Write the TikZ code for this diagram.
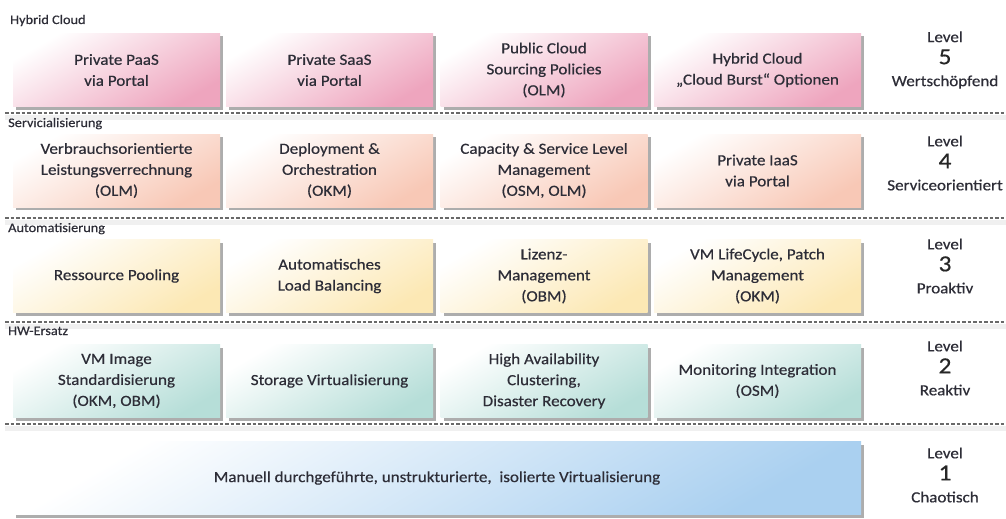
\documentclass[tikz,border=0pt]{standalone}
\usepackage{fontspec}
\setmainfont[FakeStretch=1.1]{Carlito}
\newfontfamily\boxfont[FakeStretch=1.1,FakeBold=0.5]{Carlito}
\usetikzlibrary{shadows}
\definecolor{txt}{RGB}{45,45,55}
\definecolor{pinkc}{RGB}{238,165,190}
\definecolor{peachc}{RGB}{248,200,182}
\definecolor{yelc}{RGB}{252,232,180}
\definecolor{tealc}{RGB}{182,222,216}
\definecolor{bluec}{RGB}{170,208,240}
\definecolor{dashc}{RGB}{105,105,105}
\tikzset{
  box/.style={draw=none, top color=white, bottom color=#1, shading angle=30,
    minimum width=207pt, minimum height=73pt, align=center, text=txt,
    font=\boxfont\fontsize{15.5}{21}\selectfont, inner sep=2pt,
    drop shadow={shadow xshift=3pt, shadow yshift=-3pt, opacity=0.32, fill=black}},
  lvl/.style={align=center, text=txt, font=\boxfont\fontsize{15.5}{22}\selectfont},
  cat/.style={anchor=base west, text=txt, font=\boxfont\fontsize{13}{14}\selectfont, inner sep=0pt},
  dashline/.style={draw=dashc, line width=1.1pt, dash pattern=on 3.5pt off 2pt},
  dashshadow/.style={draw=black, line width=5pt, opacity=0.06}
}
\newcommand{\bignum}[1]{{\fontsize{23}{22}\selectfont\color{black!85}#1}}
\begin{document}
\begin{tikzpicture}[x=1pt,y=-1pt]
\fill[white] (0,0) rectangle (1006,519);
\useasboundingbox (0,0) rectangle (1006,519);

% dashed separators
\foreach \yy/\nm in {113/a,218/b,322/c,424/d}{
  \coordinate (sl\nm) at (5,\yy);
  \coordinate (sr\nm) at (1006,\yy);
  \draw[dashshadow] ([yshift=-4pt]sl\nm) -- ([yshift=-4pt]sr\nm);
  \draw[dashline] (sl\nm) -- (sr\nm);
}

% category labels
\node[cat] (c5) at (10,24) {Hybrid Cloud};
\node[cat] (c4) at (8,127) {Servicialisierung};
\node[cat] (c3) at (8,232) {Automatisierung};
\node[cat] (c2) at (8,335) {HW-Ersatz};

% row 5
\node[box=pinkc] (b51) at (116.5,70) {Private PaaS\\via Portal};
\node[box=pinkc] (b52) at (329.5,70) {Private SaaS\\via Portal};
\node[box=pinkc] (b53) at (544,70) {Public Cloud\\Sourcing Policies\\(OLM)};
\node[box=pinkc] (b54) at (757.5,70) {Hybrid Cloud\\„Cloud Burst“ Optionen};

% row 4
\node[box=peachc] (b41) at (116.5,170.5) {Verbrauchsorientierte\\Leistungsverrechnung\\(OLM)};
\node[box=peachc] (b42) at (329.5,170.5) {Deployment \&\\Orchestration\\(OKM)};
\node[box=peachc] (b43) at (544,170.5) {Capacity \& Service Level\\Management\\(OSM, OLM)};
\node[box=peachc] (b44) at (757.5,170.5) {Private IaaS\\via Portal};

% row 3
\node[box=yelc] (b31) at (116.5,276) {Ressource Pooling};
\node[box=yelc] (b32) at (329.5,276) {Automatisches\\Load Balancing};
\node[box=yelc] (b33) at (544,276) {Lizenz-\\Management\\(OBM)};
\node[box=yelc] (b34) at (757.5,276) {VM LifeCycle, Patch\\Management\\(OKM)};

% row 2
\node[box=tealc] (b21) at (116.5,381) {VM Image\\Standardisierung\\(OKM, OBM)};
\node[box=tealc] (b22) at (329.5,381) {Storage Virtualisierung};
\node[box=tealc] (b23) at (544,381) {High Availability\\Clustering,\\Disaster Recovery};
\node[box=tealc] (b24) at (757.5,381) {Monitoring Integration\\(OSM)};

% row 1
\node[box=bluec, minimum width=848pt] (b11) at (437,478) {Manuell durchgeführte, unstrukturierte,\ \ isolierte Virtualisierung};

% levels
\node[lvl] (l5) at (945,60) {Level\\\bignum{5}\\Wertschöpfend};
\node[lvl] (l4) at (945,163) {Level\\\bignum{4}\\Serviceorientiert};
\node[lvl] (l3) at (945,266) {Level\\\bignum{3}\\Proaktiv};
\node[lvl] (l2) at (945,368) {Level\\\bignum{2}\\Reaktiv};
\node[lvl] (l1) at (945,475) {Level\\\bignum{1}\\Chaotisch};
\end{tikzpicture}
\end{document}
